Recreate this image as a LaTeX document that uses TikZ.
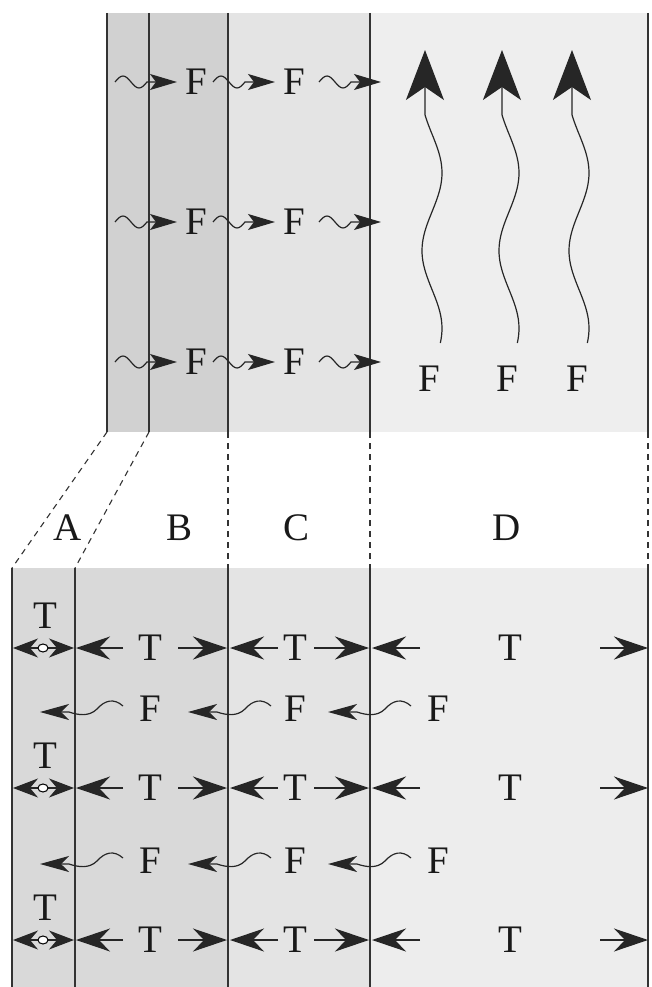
\documentclass[tikz,border=0pt]{standalone}
\usepackage{fontspec}
\setmainfont{Liberation Serif}
\usetikzlibrary{arrows.meta}
\definecolor{abA}{gray}{0.82}
\definecolor{cA}{gray}{0.895}
\definecolor{dA}{gray}{0.935}
\definecolor{abB}{gray}{0.85}
\definecolor{cB}{gray}{0.895}
\definecolor{dB}{gray}{0.93}
\definecolor{ln}{gray}{0.2}
\newcommand\fwave[2]{%
 \draw[wv,hf] ({#1+83},{#2-6}) .. controls ({#1+74},{#2-14}) and ({#1+65},{#2-12}) .. ({#1+57},{#2-3}) .. controls ({#1+49},{#2+5}) and ({#1+38},{#2+3}) .. ({#1+29},{#2}) -- ({#1},{#2});}
\newcommand\twave[2]{%
 \draw[wv,hs] (#1,#2) sin ({#1+8},{#2-6}) cos ({#1+16},#2) sin ({#1+24},{#2+6}) cos ({#1+32},#2) -- ({#1+62},#2);}
\begin{document}
\begin{tikzpicture}[x=1pt,y=-1pt,
  lbl/.style={font=\fontsize{39}{40}\selectfont, inner sep=0pt, text=black!90},
  vl/.style={draw=ln, line width=1.3pt},
  dl/.style={draw=ln, line width=1.1pt, dash pattern=on 6pt off 5pt},
  wv/.style={line width=1.2pt, draw=black!85},
  hs/.style={-{Stealth[length=27pt,width=16pt,inset=6pt]}},
  ht/.style={-{Stealth[length=34pt,width=23pt,inset=11pt]}},
  ha/.style={-{Stealth[length=25pt,width=19pt,inset=8pt]}},
  hf/.style={-{Stealth[length=29pt,width=16pt,inset=8pt]}},
  hd/.style={-{Stealth[length=50pt,width=38pt,inset=13pt]}},
]
\useasboundingbox (0,0) rectangle (651,987);
% shading
\fill[abA] (107,13) rectangle (228,432);
\fill[cA] (228,13) rectangle (370,432);
\fill[dA] (370,13) rectangle (648,432);
\fill[abB] (12,568) rectangle (228,987);
\fill[cB] (228,568) rectangle (370,987);
\fill[dB] (370,568) rectangle (648,987);
% vertical lines
\foreach \x/\n in {107/a,149/b,228/c,370/d,648/e} {
  \coordinate (t\n1) at (\x,13); \coordinate (t\n2) at (\x,432);
  \draw[vl] (t\n1) -- (t\n2);}
\foreach \x/\n in {12/a,75/b,228/c,370/d,648/e} {
  \coordinate (b\n1) at (\x,568); \coordinate (b\n2) at (\x,987);
  \draw[vl] (b\n1) -- (b\n2);}
% dashed connections
\draw[dl] (ta2) -- (ba1);
\draw[dl] (tb2) -- (bb1);
\draw[dl] (tc2) -- (bc1);
\draw[dl] (td2) -- (bd1);
\draw[dl] (te2) -- (be1);
% labels
\node[lbl] (lA) at (68,528) {A};
\node[lbl] (lB) at (180,528) {B};
\node[lbl] (lC) at (297,528) {C};
\node[lbl] (lD) at (507,528) {D};
% top rows
\foreach \r [count=\i] in {82,222,362} {
  \node[lbl] (Fa\i) at (196,\r) {F};
  \node[lbl] (Fb\i) at (294,\r) {F};
  \twave{115}{\r}
  \twave{213}{\r}
  \twave{319}{\r}
}
% D vertical arrows
\foreach \x/\f [count=\i] in {425/429,502/507,572/577} {
  \node[lbl] (FD\i) at (\f,379) {F};
  \coordinate (tip\i) at (\x,50);
  \draw[wv,hd] plot[domain=0:0.94,samples=60,variable=\t,smooth]
     ({\x+7+10*cos(360*(\t-0.70)/0.64)},{343-243*\t}) -- (tip\i);
}
% bottom T rows
\foreach \R [count=\i] in {648,788,940} {
  \node[lbl] (TA\i) at (45,{\R-32}) {T};
  \coordinate (m\i) at (43,\R);
  \draw[wv,ha] (m\i) -- (13,\R);
  \draw[wv,ha] (m\i) -- (74,\R);
  \draw[line width=1pt, fill=white] (m\i) ellipse [x radius=5, y radius=4];
  \node[lbl] (TB\i) at (150,\R) {T};
  \draw[wv,ht] (123,\R) -- (76,\R);
  \draw[wv,ht] (178,\R) -- (227,\R);
  \node[lbl] (TC\i) at (295,\R) {T};
  \draw[wv,ht] (278,\R) -- (230,\R);
  \draw[wv,ht] (314,\R) -- (369,\R);
  \node[lbl] (TD\i) at (510,\R) {T};
  \draw[wv,ht] (420,\R) -- (372,\R);
  \draw[wv,ht] (600,\R) -- (648,\R);
}
% bottom F rows
\foreach \R [count=\i] in {712,864} {
  \node[lbl] (FB\i) at (150,{\R-3}) {F};
  \node[lbl] (FC\i) at (295,{\R-3}) {F};
  \node[lbl] (FE\i) at (438,{\R-3}) {F};
  \fwave{40}{\R}
  \fwave{188}{\R}
  \fwave{328}{\R}
}
\end{tikzpicture}
\end{document}
